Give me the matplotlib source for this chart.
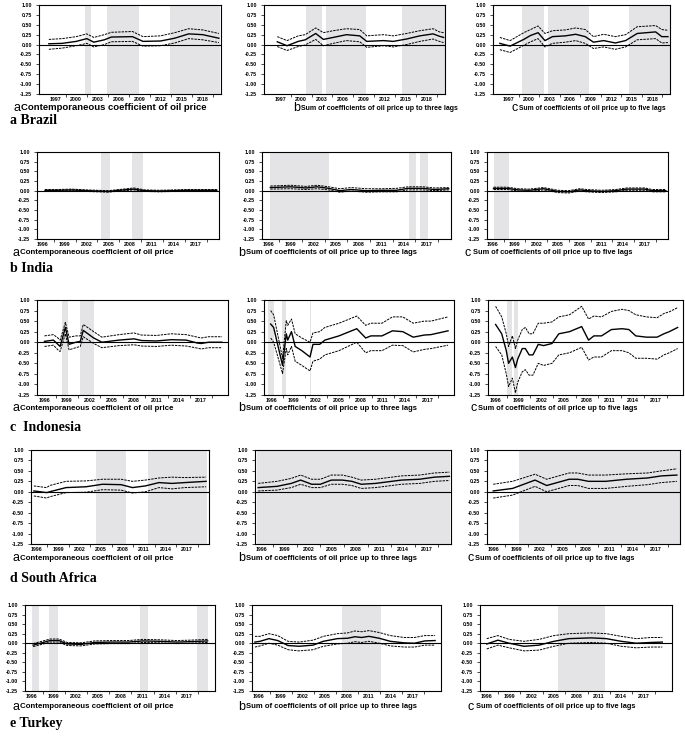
import matplotlib
matplotlib.use("Agg")
import matplotlib.pyplot as plt

plt.rcParams['font.family'] = ['Liberation Sans', 'DejaVu Sans']

# --- data (decimal years, coefficient values) ---

# Brazil
bra_a_yr = [1996.1, 1998.0, 2000.0, 2001.5, 2002.5, 2004.0, 2005.0, 2008.0, 2009.5, 2012.0, 2014.0, 2016.0, 2018.0, 2020.3]
bra_a_up = [0.13, 0.15, 0.20, 0.27, 0.18, 0.25, 0.31, 0.33, 0.20, 0.22, 0.30, 0.40, 0.37, 0.28]
bra_a_mid = [0.02, 0.03, 0.08, 0.15, 0.06, 0.12, 0.19, 0.20, 0.08, 0.09, 0.16, 0.27, 0.25, 0.16]
bra_a_lo = [-0.12, -0.09, -0.03, 0.03, -0.06, 0.00, 0.07, 0.08, -0.04, -0.03, 0.04, 0.15, 0.12, 0.05]
bra_a_shade = [(2001.2, 2002.1), (2004.4, 2009.0), (2013.3, 2020.5)]

bra_b_yr = [1996.6, 1998.0, 1999.6, 2000.6, 2002.1, 2003.2, 2004.6, 2006.5, 2008.4, 2009.4, 2011.8, 2013.2, 2015.1, 2017.0, 2018.9, 2019.8, 2020.4]
bra_b_up = [0.20, 0.10, 0.22, 0.25, 0.42, 0.30, 0.35, 0.40, 0.38, 0.22, 0.25, 0.22, 0.28, 0.35, 0.40, 0.32, 0.30]
bra_b_mid = [0.07, -0.03, 0.08, 0.12, 0.28, 0.13, 0.18, 0.25, 0.22, 0.08, 0.10, 0.08, 0.14, 0.22, 0.27, 0.21, 0.18]
bra_b_lo = [-0.05, -0.15, -0.05, -0.01, 0.13, -0.03, 0.03, 0.10, 0.07, -0.07, -0.03, -0.06, 0.00, 0.08, 0.14, 0.08, 0.05]
bra_b_shade = [(2000.7, 2003.0), (2003.6, 2009.3), (2014.4, 2020.6)]

bra_c_yr = [1995.7, 1997.2, 1999.2, 2000.2, 2001.3, 2002.3, 2003.4, 2005.3, 2006.8, 2008.2, 2009.4, 2010.9, 2012.6, 2014.1, 2015.8, 2018.5, 2019.4, 2020.3]
bra_c_up = [0.18, 0.10, 0.30, 0.38, 0.47, 0.28, 0.35, 0.37, 0.42, 0.38, 0.20, 0.26, 0.20, 0.25, 0.45, 0.48, 0.38, 0.36]
bra_c_mid = [0.03, -0.04, 0.13, 0.23, 0.30, 0.10, 0.20, 0.22, 0.26, 0.20, 0.06, 0.10, 0.04, 0.10, 0.28, 0.32, 0.20, 0.20]
bra_c_lo = [-0.13, -0.20, -0.02, 0.07, 0.15, -0.06, 0.03, 0.06, 0.10, 0.03, -0.10, -0.06, -0.12, -0.06, 0.12, 0.15, 0.04, 0.05]
bra_c_shade = [(1998.9, 2002.2), (2002.7, 2008.8), (2014.6, 2020.6)]

# India
ind_a_yr = [1996.3, 1998.0, 2000.0, 2002.0, 2003.5, 2005.0, 2006.5, 2008.5, 2010.0, 2012.0, 2014.0, 2016.0, 2018.0, 2019.9]
ind_a_up = [0.03, 0.03, 0.04, 0.02, 0.01, 0.00, 0.03, 0.07, 0.02, 0.01, 0.02, 0.03, 0.03, 0.03]
ind_a_mid = [0.01, 0.01, 0.02, 0.00, -0.01, -0.02, 0.01, 0.04, 0.00, -0.01, 0.00, 0.01, 0.01, 0.01]
ind_a_lo = [-0.01, -0.01, 0.00, -0.02, -0.03, -0.04, -0.01, 0.02, -0.02, -0.03, -0.02, -0.01, -0.01, -0.01]
ind_a_shade = [(2004.0, 2005.2), (2008.2, 2009.7)]

ind_b_yr = [1996.3, 1999.0, 2001.0, 2002.5, 2004.0, 2005.5, 2007.0, 2009.0, 2011.0, 2013.0, 2014.5, 2016.5, 2018.0, 2019.9]
ind_b_up = [0.12, 0.14, 0.11, 0.14, 0.10, 0.05, 0.08, 0.05, 0.05, 0.06, 0.10, 0.10, 0.07, 0.08]
ind_b_mid = [0.08, 0.10, 0.07, 0.10, 0.06, 0.00, 0.03, 0.00, 0.01, 0.01, 0.06, 0.06, 0.03, 0.05]
ind_b_lo = [0.04, 0.05, 0.03, 0.05, 0.02, -0.04, -0.01, -0.04, -0.03, -0.03, 0.02, 0.02, 0.00, 0.02]
ind_b_shade = [(1996.3, 2004.0), (2014.7, 2015.6), (2016.1, 2017.1)]

ind_c_yr = [1996.1, 1998.0, 1999.5, 2001.0, 2003.0, 2005.0, 2006.5, 2008.0, 2009.0, 2011.0, 2013.0, 2014.5, 2017.0, 2018.0, 2019.9]
ind_c_up = [0.09, 0.09, 0.05, 0.04, 0.08, 0.01, 0.00, 0.05, 0.03, 0.01, 0.03, 0.07, 0.07, 0.03, 0.03]
ind_c_mid = [0.06, 0.06, 0.02, 0.01, 0.05, -0.02, -0.03, 0.02, 0.00, -0.02, 0.00, 0.04, 0.04, 0.00, 0.00]
ind_c_lo = [0.03, 0.03, -0.01, -0.02, 0.02, -0.05, -0.06, -0.01, -0.03, -0.05, -0.03, 0.01, 0.01, -0.03, -0.03]
ind_c_shade = [(1996.1, 1998.3)]

# Indonesia
idn_a_yr = [1996.0, 1997.2, 1997.8, 1998.1, 1998.8, 1999.3, 2000.2, 2000.8, 2001.2, 2002.6, 2003.7, 2006.0, 2008.0, 2009.0, 2011.0, 2013.0, 2015.0, 2016.5, 2017.0, 2018.0, 2019.8]
idn_a_up = [0.15, 0.18, 0.10, 0.05, 0.47, 0.12, 0.15, 0.15, 0.42, 0.25, 0.12, 0.18, 0.22, 0.17, 0.16, 0.20, 0.18, 0.12, 0.10, 0.13, 0.13]
idn_a_mid = [0.02, 0.05, -0.05, -0.10, 0.35, -0.05, 0.00, 0.02, 0.28, 0.10, 0.00, 0.05, 0.08, 0.04, 0.03, 0.06, 0.05, -0.02, -0.03, 0.00, 0.00]
idn_a_lo = [-0.10, -0.07, -0.18, -0.22, 0.20, -0.18, -0.13, -0.10, 0.13, -0.03, -0.13, -0.08, -0.06, -0.09, -0.10, -0.07, -0.09, -0.14, -0.16, -0.13, -0.13]
idn_a_shade = [(1998.3, 1999.2), (2000.8, 2002.6)]

idn_b_yr = [1995.9, 1996.3, 1997.5, 1998.0, 1998.2, 1998.7, 1999.2, 2000.1, 2001.2, 2001.6, 2002.5, 2003.2, 2005.1, 2007.5, 2008.7, 2009.4, 2010.9, 2012.3, 2013.7, 2015.1, 2016.6, 2017.5, 2019.8]
idn_b_up = [0.75, 0.65, -0.38, 0.51, 0.40, 0.55, 0.20, 0.10, 0.00, 0.22, 0.25, 0.35, 0.45, 0.62, 0.40, 0.45, 0.45, 0.60, 0.60, 0.45, 0.50, 0.50, 0.60]
idn_b_mid = [0.43, 0.35, -0.55, 0.20, 0.05, 0.25, -0.10, -0.20, -0.35, -0.05, -0.05, 0.05, 0.15, 0.32, 0.10, 0.15, 0.15, 0.27, 0.25, 0.12, 0.17, 0.18, 0.27]
idn_b_lo = [0.10, 0.00, -0.74, -0.15, -0.30, -0.10, -0.45, -0.55, -0.68, -0.45, -0.40, -0.30, -0.20, 0.00, -0.25, -0.20, -0.20, -0.07, -0.08, -0.23, -0.17, -0.15, -0.07]
idn_b_shade = [(1995.6, 1996.3), (1997.4, 1997.9), (2001.15, 2001.3)]

idn_c_yr = [1996.0, 1996.8, 1997.4, 1997.7, 1998.2, 1998.6, 1998.9, 1999.5, 1999.9, 2000.4, 2000.9, 2001.6, 2002.3, 2003.4, 2004.3, 2005.7, 2007.3, 2008.2, 2008.9, 2009.9, 2011.2, 2012.6, 2013.5, 2014.4, 2015.8, 2017.2, 2018.1, 2018.8, 2019.9]
idn_c_up = [0.85, 0.60, 0.20, -0.10, 0.15, -0.15, 0.05, 0.30, 0.35, 0.20, 0.20, 0.45, 0.45, 0.48, 0.60, 0.65, 0.85, 0.55, 0.62, 0.60, 0.73, 0.78, 0.75, 0.65, 0.60, 0.58, 0.68, 0.72, 0.82]
idn_c_mid = [0.42, 0.20, -0.20, -0.50, -0.35, -0.60, -0.40, -0.15, -0.15, -0.30, -0.30, -0.05, -0.08, -0.03, 0.20, 0.25, 0.37, 0.05, 0.15, 0.15, 0.30, 0.32, 0.30, 0.15, 0.12, 0.12, 0.20, 0.25, 0.35]
idn_c_lo = [-0.10, -0.30, -0.75, -1.05, -0.85, -1.20, -0.95, -0.70, -0.65, -0.78, -0.78, -0.50, -0.55, -0.50, -0.30, -0.25, -0.12, -0.42, -0.35, -0.35, -0.20, -0.20, -0.25, -0.38, -0.38, -0.40, -0.30, -0.25, -0.15]
idn_c_shade = [(1997.55, 1998.15), (1998.4, 1999.0)]

# South Africa
zaf_a_yr = [1995.6, 1997.4, 1997.8, 2000.1, 2002.9, 2005.2, 2007.8, 2009.4, 2011.2, 2013.1, 2014.9, 2016.7, 2019.7]
zaf_a_up = [0.14, 0.10, 0.15, 0.25, 0.26, 0.30, 0.30, 0.25, 0.28, 0.33, 0.35, 0.34, 0.35]
zaf_a_mid = [0.02, -0.02, 0.00, 0.10, 0.12, 0.18, 0.17, 0.10, 0.14, 0.22, 0.20, 0.22, 0.25]
zaf_a_lo = [-0.10, -0.15, -0.12, -0.02, -0.01, 0.05, 0.04, -0.03, 0.00, 0.10, 0.07, 0.10, 0.12]
zaf_a_shade = [(2004.3, 2008.5), (2011.5, 2019.8)]

zaf_b_yr = [1995.6, 1998.0, 1999.8, 2001.0, 2002.4, 2003.5, 2004.9, 2006.3, 2007.5, 2008.7, 2010.5, 2013.8, 2016.1, 2018.0, 2019.9]
zaf_b_up = [0.20, 0.25, 0.32, 0.40, 0.30, 0.30, 0.40, 0.40, 0.35, 0.28, 0.30, 0.38, 0.40, 0.45, 0.47]
zaf_b_mid = [0.10, 0.13, 0.20, 0.28, 0.18, 0.18, 0.28, 0.28, 0.25, 0.18, 0.20, 0.28, 0.30, 0.35, 0.37]
zaf_b_lo = [0.02, 0.04, 0.10, 0.18, 0.10, 0.10, 0.18, 0.18, 0.15, 0.08, 0.10, 0.18, 0.20, 0.25, 0.27]
zaf_b_shade = [(1995.5, 2020.0)]

zaf_c_yr = [1996.0, 1998.5, 2001.4, 2002.9, 2005.8, 2006.9, 2008.3, 2010.5, 2013.2, 2015.9, 2017.7, 2019.7]
zaf_c_up = [0.18, 0.25, 0.42, 0.30, 0.45, 0.45, 0.40, 0.40, 0.43, 0.45, 0.50, 0.55]
zaf_c_mid = [0.02, 0.08, 0.28, 0.15, 0.30, 0.30, 0.25, 0.25, 0.30, 0.33, 0.38, 0.40]
zaf_c_lo = [-0.15, -0.08, 0.13, 0.00, 0.15, 0.15, 0.08, 0.08, 0.13, 0.17, 0.22, 0.25]
zaf_c_shade = [(1999.3, 2021.0)]

# Turkey
tur_a_yr = [1996.2, 1998.5, 1999.7, 2000.8, 2002.7, 2004.5, 2006.8, 2009.1, 2011.0, 2013.3, 2015.6, 2017.4, 2019.8]
tur_a_up = [-0.01, 0.11, 0.11, 0.02, 0.01, 0.06, 0.07, 0.07, 0.10, 0.09, 0.07, 0.08, 0.10]
tur_a_mid = [-0.05, 0.07, 0.07, -0.02, -0.03, 0.02, 0.03, 0.03, 0.06, 0.05, 0.03, 0.04, 0.06]
tur_a_lo = [-0.09, 0.03, 0.03, -0.06, -0.07, -0.02, -0.01, -0.01, 0.02, 0.01, -0.01, 0.00, 0.02]
tur_a_shade = [(1996.1, 1997.0), (1998.4, 1999.5), (2010.6, 2011.8), (2018.4, 2019.9)]

tur_b_yr = [1995.5, 1996.2, 1997.4, 1998.6, 2000.0, 2001.5, 2003.4, 2004.8, 2006.7, 2008.1, 2009.1, 2010.0, 2011.0, 2012.4, 2013.9, 2015.8, 2017.2, 2018.6, 2020.0]
tur_b_up = [0.18, 0.18, 0.25, 0.20, 0.05, 0.03, 0.08, 0.18, 0.25, 0.27, 0.32, 0.30, 0.33, 0.28, 0.20, 0.15, 0.15, 0.20, 0.20]
tur_b_mid = [0.03, 0.05, 0.12, 0.07, -0.06, -0.08, -0.05, 0.05, 0.12, 0.13, 0.17, 0.15, 0.18, 0.13, 0.05, 0.01, 0.00, 0.06, 0.07]
tur_b_lo = [-0.10, -0.07, 0.00, -0.05, -0.17, -0.20, -0.17, -0.08, -0.02, 0.00, 0.04, 0.02, 0.05, 0.00, -0.07, -0.10, -0.10, -0.05, -0.05]
tur_b_shade = [(2007.4, 2012.7)]

tur_c_yr = [1996.0, 1997.5, 1999.0, 2001.0, 2003.0, 2005.0, 2007.0, 2010.0, 2012.0, 2014.0, 2016.0, 2018.0, 2019.5]
tur_c_up = [0.12, 0.20, 0.10, 0.05, 0.10, 0.20, 0.25, 0.27, 0.25, 0.18, 0.12, 0.15, 0.15]
tur_c_mid = [-0.02, 0.08, 0.00, -0.08, -0.05, 0.05, 0.12, 0.14, 0.12, 0.05, 0.00, 0.02, 0.03]
tur_c_lo = [-0.15, -0.05, -0.12, -0.20, -0.18, -0.08, 0.00, 0.02, 0.00, -0.08, -0.12, -0.10, -0.10]
tur_c_shade = [(2005.5, 2011.8)]

ytick_vals = [1.00, 0.75, 0.50, 0.25, 0.00, -0.25, -0.50, -0.75, -1.00, -1.25]
bra_xticks = [1997, 2000, 2003, 2006, 2009, 2012, 2015, 2018]
oth_xticks = [1996, 1999, 2002, 2005, 2008, 2011, 2014, 2017]

captions = ["Contemporaneous coefficient of oil price",
            "Sum of coefficients of oil price up to three lags",
            "Sum of coefficients of oil price up to five lags"]
cap_letters = ["a", "b", "c"]

# --- layout (pixels) ---
W, H = 685, 742
fig = plt.figure(figsize=(W / 100, H / 100), dpi=100)

rows = [
    dict(name="a Brazil", top=5, bot=94, cols=[(39, 221), (264, 445), (493, 670)], xlim=(1994.7, 2020.6),
         xt=bra_xticks, cap_y=108, name_y=120, cap_x=[13, 293, 511], cap_fs=[6.8, 5.0, 4.9],
         panels=[(bra_a_yr, bra_a_up, bra_a_mid, bra_a_lo, bra_a_shade),
                 (bra_b_yr, bra_b_up, bra_b_mid, bra_b_lo, bra_b_shade),
                 (bra_c_yr, bra_c_up, bra_c_mid, bra_c_lo, bra_c_shade)]),
    dict(name="b India", top=152, bot=239, cols=[(37, 219), (262, 451), (487, 668)], xlim=(1995.2, 2020.2),
         xt=oth_xticks, cap_y=253, name_y=268, cap_x=[12, 238, 465], cap_fs=[5.7, 5.5, 5.3],
         panels=[(ind_a_yr, ind_a_up, ind_a_mid, ind_a_lo, ind_a_shade),
                 (ind_b_yr, ind_b_up, ind_b_mid, ind_b_lo, ind_b_shade),
                 (ind_c_yr, ind_c_up, ind_c_mid, ind_c_lo, ind_c_shade)]),
    dict(name="c  Indonesia", top=300, bot=395, cols=[(37, 228), (264, 454), (488, 683)], xlim=(1995.0, 2020.6),
         xt=oth_xticks, cap_y=408, name_y=428, cap_x=[12, 238, 470], cap_fs=[5.7, 5.5, 5.3],
         panels=[(idn_a_yr, idn_a_up, idn_a_mid, idn_a_lo, idn_a_shade),
                 (idn_b_yr, idn_b_up, idn_b_mid, idn_b_lo, idn_b_shade),
                 (idn_c_yr, idn_c_up, idn_c_mid, idn_c_lo, idn_c_shade)]),
    dict(name="d South Africa", top=450, bot=544, cols=[(31, 209), (255, 451), (487, 680)], xlim=(1995.2, 2020.1),
         xt=oth_xticks, cap_y=558, name_y=578, cap_x=[12, 238, 467], cap_fs=[5.7, 5.5, 5.3],
         panels=[(zaf_a_yr, zaf_a_up, zaf_a_mid, zaf_a_lo, zaf_a_shade),
                 (zaf_b_yr, zaf_b_up, zaf_b_mid, zaf_b_lo, zaf_b_shade),
                 (zaf_c_yr, zaf_c_up, zaf_c_mid, zaf_c_lo, zaf_c_shade)]),
    dict(name="e Turkey", top=605, bot=691, cols=[(25, 215), (252, 441), (480, 672)], xlim=(1995.1, 2020.8),
         xt=oth_xticks, cap_y=707, name_y=723, cap_x=[12, 238, 468], cap_fs=[5.7, 5.5, 5.3],
         panels=[(tur_a_yr, tur_a_up, tur_a_mid, tur_a_lo, tur_a_shade),
                 (tur_b_yr, tur_b_up, tur_b_mid, tur_b_lo, tur_b_shade),
                 (tur_c_yr, tur_c_up, tur_c_mid, tur_c_lo, tur_c_shade)]),
]

shade_col = '#e4e4e6'

for row in rows:
    for j, ((l, r), (yr, up, mid, lo, shades)) in enumerate(zip(row['cols'], row['panels'])):
        ax = fig.add_axes([l / W, 1 - row['bot'] / H, (r - l) / W, (row['bot'] - row['top']) / H])
        for s0, s1 in shades:
            ax.axvspan(s0, s1, color=shade_col, lw=0)
        ax.axhline(0, color='black', lw=0.8)
        ax.plot(yr, up, color='black', lw=0.7, ls=(0, (2.5, 1)))
        ax.plot(yr, lo, color='black', lw=0.7, ls=(0, (2.5, 1)))
        ax.plot(yr, mid, color='black', lw=1.0)
        ax.set_ylim(-1.25, 1.0)
        ax.set_xlim(*row['xlim'])
        ax.set_yticks(ytick_vals)
        ax.set_yticklabels(['%.2f' % v for v in ytick_vals])
        ax.set_xticks(row['xt'])
        ax.set_xticklabels([str(t) for t in row['xt']])
        ax.set_xticks([t + 1.5 for t in row['xt']], minor=True)
        ax.tick_params(axis='both', labelsize=3.8, length=0, pad=2)
        ax.tick_params(axis='x', which='minor', length=2, width=0.5, direction='out')
        ax.tick_params(axis='y', length=2, width=0.5, direction='out', pad=3)
        for lab in ax.get_xticklabels() + ax.get_yticklabels():
            lab.set_fontweight('bold')
        for sp in ax.spines.values():
            sp.set_linewidth(0.8)

        cx = row['cap_x'][j]
        fig.text(cx / W, 1 - row['cap_y'] / H, cap_letters[j], fontsize=9, va='center', ha='left')
        fig.text((cx + 8) / W, 1 - row['cap_y'] / H, captions[j], fontsize=row['cap_fs'][j],
                 fontweight='bold', va='center', ha='left')

    fig.text(10 / W, 1 - row['name_y'] / H, row['name'], fontsize=10, fontweight='bold',
             family='Liberation Serif', va='center', ha='left')

fig.savefig('out.png', dpi=100)
